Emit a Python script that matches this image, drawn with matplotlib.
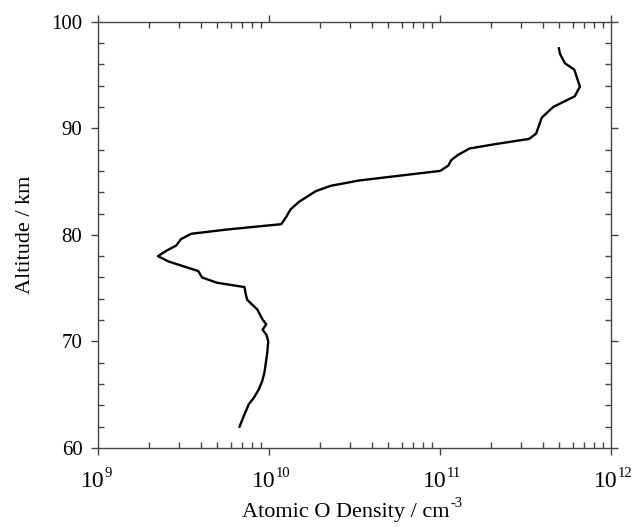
import numpy as np
import matplotlib
matplotlib.use("Agg")
import matplotlib.pyplot as plt

# Atomic O density profile (log10 of cm^-3 vs km)
altitude_km = [62.0, 63.0, 64.1, 64.7, 65.5, 66.3, 67.1, 68.0, 68.9, 70.0,
               70.6, 71.1, 71.6, 72.1, 73.0, 73.9, 74.4, 75.1, 75.5, 76.0,
               76.6, 77.5, 78.0, 78.5, 79.0, 79.6, 80.1, 80.5, 81.0, 81.6,
               82.4, 83.1, 84.1, 84.6, 85.1, 85.6, 86.0, 86.5, 87.0, 87.5,
               88.1, 88.5, 89.0, 89.5, 91.0, 92.0, 93.0, 93.9, 95.5, 96.1,
               97.0, 97.5]
log_density = [9.829, 9.854, 9.883, 9.912, 9.942, 9.962, 9.975, 9.983, 9.991, 9.997,
               9.987, 9.964, 9.985, 9.962, 9.933, 9.874, 9.866, 9.858, 9.698, 9.610,
               9.588, 9.414, 9.352, 9.401, 9.459, 9.487, 9.547, 9.757, 10.073, 10.099,
               10.128, 10.177, 10.275, 10.362, 10.528, 10.792, 11.002, 11.050, 11.066, 11.106,
               11.174, 11.320, 11.522, 11.563, 11.596, 11.663, 11.789, 11.819, 11.786, 11.731,
               11.702, 11.696]

decades = [9, 10, 11, 12]
y_major = [60, 70, 80, 90, 100]

density = 10.0 ** np.array(log_density)

plt.rcParams['font.family'] = ['Liberation Serif', 'DejaVu Serif']

fig = plt.figure(figsize=(6.32, 5.27), dpi=100)
ax = fig.add_axes([0.1546, 0.1499, 0.812, 0.809])

ax.plot(density, altitude_km, color='black', lw=1.7)

ax.set_xscale('log')
ax.set_xlim(1e9, 1e12)
ax.set_ylim(60, 100)
ax.set_yticks(y_major)
ax.set_yticks(np.arange(60, 101, 2), minor=True)
ax.set_xticks([10.0 ** d for d in decades])
ax.set_xticklabels([])

spine_col = '#444444'
for s in ax.spines.values():
    s.set_color(spine_col)
    s.set_linewidth(1.0)

ax.tick_params(which='major', direction='out', length=5, width=1.0,
               color=spine_col, labelsize=15, top=True, right=True, pad=6)
ax.tick_params(which='minor', direction='in', length=4, width=1.0,
               color=spine_col, top=True, right=True)

# x tick labels: big "10" with a small exponent, like the original
for d in decades:
    ax.annotate('10', xy=(10.0 ** d, 0), xycoords=('data', 'axes fraction'),
                xytext=(5, -28), textcoords='offset points',
                ha='right', va='baseline', fontsize=17)
    ax.annotate(str(d), xy=(10.0 ** d, 0), xycoords=('data', 'axes fraction'),
                xytext=(4.8, -21), textcoords='offset points',
                ha='left', va='baseline', fontsize=10.5)

# x label with a small raised "-3" right after "cm"
xlab = fig.text(346 / 632, 1 - 517 / 527, 'Atomic O Density / cm',
                ha='center', va='baseline', fontsize=16)
fig.canvas.draw()
ax.annotate('-3', xy=(1.0, 0.0), xycoords=xlab,
            xytext=(0.5, 10.5), textcoords='offset points',
            ha='left', va='baseline', fontsize=10.5, annotation_clip=False)
ax.set_ylabel('Altitude / km', fontsize=16, labelpad=12)

fig.savefig('out.png', dpi=100)
